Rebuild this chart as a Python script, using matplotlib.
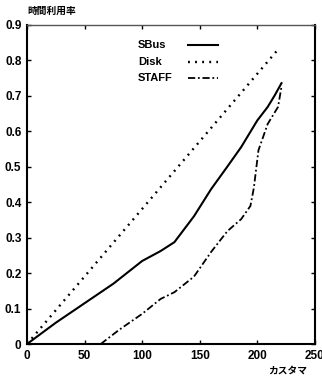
import matplotlib
matplotlib.use("Agg")
import matplotlib.pyplot as plt

plt.rcParams['font.family'] = ['Liberation Sans', 'Noto Sans CJK JP', 'DejaVu Sans']

# Time utilisation vs. number of customers
disk_x = [0, 218]
disk_y = [0.0, 0.83]

sbus_x = [0, 25, 50, 75, 100, 116, 128, 145, 160, 174, 186, 200, 209, 215, 221]
sbus_y = [0.0, 0.06, 0.115, 0.17, 0.234, 0.262, 0.287, 0.36, 0.437, 0.50, 0.555, 0.63, 0.668, 0.70, 0.735]

staff_x = [64, 80, 100, 116, 128, 145, 160, 174, 186, 194, 197, 201, 209, 218, 221]
staff_y = [0.0, 0.04, 0.085, 0.127, 0.146, 0.19, 0.26, 0.318, 0.352, 0.389, 0.44, 0.546, 0.62, 0.668, 0.725]

xticks = [0, 50, 100, 150, 200, 250]
yticks = [0, 0.1, 0.2, 0.3, 0.4, 0.5, 0.6, 0.7, 0.8, 0.9]
ytick_labels = ['0', '0.1', '0.2', '0.3', '0.4', '0.5', '0.6', '0.7', '0.8', '0.9']

series_names = ['SBus', 'Disk', 'STAFF']
styles = {
    'SBus': dict(lw=1.5, ls='-'),
    'Disk': dict(lw=1.7, ls=(0, (0.8, 2.2))),
    'STAFF': dict(lw=1.3, ls=(0, (4, 1.5, 1, 1.5))),
}

fig = plt.figure(figsize=(3.22, 3.78), dpi=100)
ax = fig.add_axes([0.0839, 0.0899, 0.894, 0.845])

ax.plot(sbus_x, sbus_y, color='black', **styles['SBus'])
ax.plot(disk_x, disk_y, color='black', **styles['Disk'])
ax.plot(staff_x, staff_y, color='black', **styles['STAFF'])

# key: label on the left, line sample on the right
key_rows = [45, 62, 78]
for name, row in zip(series_names, key_rows):
    y = (344 - row) / (344 - 24.7)
    ax.text(0.385, y, name, transform=ax.transAxes, fontsize=8,
            fontweight='bold', ha='left', va='center')
    ax.plot([0.558, 0.665], [y, y], transform=ax.transAxes, color='black',
            **styles[name])

ax.set_xlim(0, 250)
ax.set_ylim(0, 0.9)
ax.set_xticks(xticks)
ax.set_xticklabels([str(v) for v in xticks])
ax.set_yticks(yticks)
ax.set_yticklabels(ytick_labels)
ax.tick_params(direction='in', top=True, right=True, length=3, width=1,
               labelsize=8.5, pad=4)
for lbl in ax.get_xticklabels() + ax.get_yticklabels():
    lbl.set_fontweight('bold')

for side in ['left', 'bottom', 'right']:
    ax.spines[side].set_linewidth(1.5)
ax.spines['top'].set_linewidth(1.0)
ax.spines['top'].set_color('#555555')

fig.text(27 / 322, 1 - 11 / 378, '時間利用率', fontsize=7, fontweight='bold',
         ha='left', va='center')
fig.text(268 / 322, 1 - 371 / 378, 'カスタマ', fontsize=7, fontweight='bold',
         ha='left', va='center')

fig.savefig('out.png', dpi=100)
